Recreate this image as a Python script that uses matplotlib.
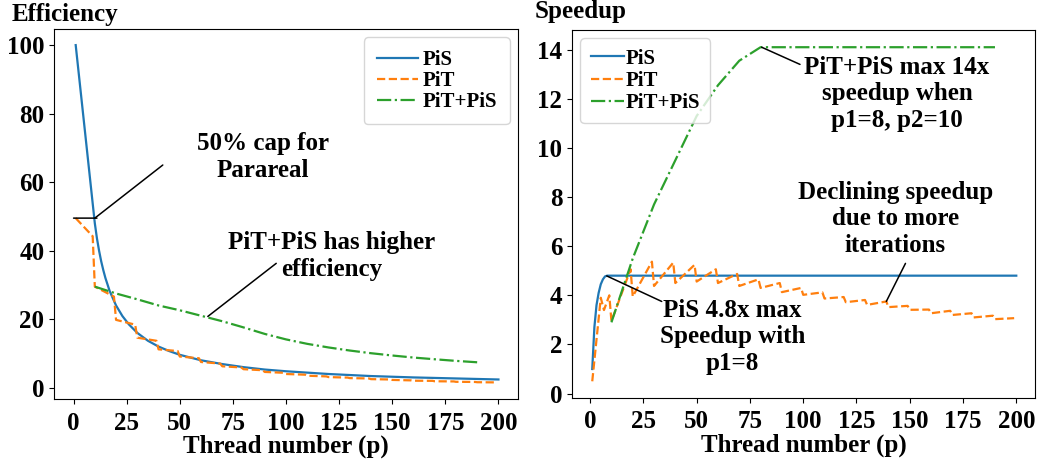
import matplotlib
matplotlib.use('Agg')
import matplotlib.pyplot as plt

plt.rcParams['font.family'] = 'serif'
plt.rcParams['font.serif'] = ['Liberation Serif', 'DejaVu Serif']
plt.rcParams['font.weight'] = 'bold'
plt.rcParams['axes.labelweight'] = 'bold'

# ---- efficiency (%) ---------------------------------------------------------
eff_p_pis = [1, 10, 11, 12, 13, 14, 15, 17, 20, 23, 26, 30, 35, 40, 45, 50,
             60, 70, 80, 90, 100, 120, 140, 160, 180, 200]
eff_pis = [100, 48, 43.6, 40, 36.9, 34.3, 32, 28.2, 24, 20.9, 18.5, 16, 13.7,
           12, 10.7, 9.6, 8, 6.9, 6.0, 5.3, 4.8, 4.0, 3.4, 3.0, 2.7, 2.4]

eff_p_pit = [1, 9, 10, 19, 20, 29, 30, 39, 40, 49, 50, 59, 60, 69, 70, 79, 80,
             89, 90, 99, 100, 109, 110, 119, 120, 129, 130, 139, 140, 149, 150,
             159, 160, 169, 170, 179, 180, 189, 190, 199]
eff_pit = [49.5, 44.2, 29.5, 26.6, 19.8, 18.4, 14.6, 13.7, 11.2, 10.7, 9.1,
           8.6, 7.5, 7.05, 6.25, 5.9, 5.4, 5.1, 4.6, 4.35, 4.0, 3.8, 3.5, 3.3,
           3.1, 2.95, 2.8, 2.7, 2.5, 2.4, 2.27, 2.14, 2.04, 2.0, 1.88, 1.83,
           1.72, 1.68, 1.6, 1.55]

eff_p_hyb = [10, 20, 30, 40, 50, 60, 70, 80, 90, 100, 110, 120, 130, 140, 150,
             160, 170, 180, 190]
eff_hyb = [29.5, 27.5, 25.8, 24.0, 22.6, 21.0, 19.4, 17.6, 15.7, 14.1, 12.8,
           11.75, 10.85, 10.07, 9.4, 8.8, 8.3, 7.83, 7.42]

# ---- speedup (x) ------------------------------------------------------------
sp_p_pis = [1, 2, 3, 4, 5, 6, 7, 8, 200]
sp_pis = [1.0, 2.7, 3.6, 4.1, 4.45, 4.65, 4.77, 4.8, 4.8]

sp_p_pit = [1, 5, 6.5, 9, 10, 19, 20, 29, 30, 39, 40, 49, 50, 59, 60, 69, 70,
            79, 80, 89, 90, 99, 100, 109, 110, 119, 120, 129, 130, 139, 140,
            149, 150, 159, 160, 169, 170, 179, 180, 189, 190, 199]
sp_pit = [0.5, 3.9, 3.4, 4.0, 2.95, 5.06, 3.95, 5.37, 4.38, 5.33, 4.5, 5.24,
          4.56, 5.06, 4.5, 4.87, 4.38, 4.65, 4.3, 4.5, 4.13, 4.3, 4.02, 4.12,
          3.87, 3.93, 3.72, 3.81, 3.61, 3.75, 3.52, 3.57, 3.41, 3.42, 3.27,
          3.37, 3.2, 3.27, 3.1, 3.17, 3.03, 3.07]

sp_p_hyb = [10, 20, 30, 40, 50, 60, 70, 80, 90, 100, 110, 120, 130, 140, 150,
            160, 170, 180, 190]
sp_hyb = [2.9, 5.5, 7.7, 9.5, 11.3, 12.55, 13.55, 14.1, 14.1, 14.1, 14.1,
          14.1, 14.1, 14.1, 14.1, 14.1, 14.1, 14.1, 14.1]

labels = ['PiS', 'PiT', 'PiT+PiS']
xticks = [0, 25, 50, 75, 100, 125, 150, 175, 200]
FS = 18
LINE = dict(arrowstyle='-', color='black', lw=1.1, shrinkA=0, shrinkB=0)

fig = plt.figure(figsize=(10.37, 4.59), dpi=100)
ax1 = fig.add_axes([0.0521, 0.1307, 0.4474, 0.8061])
ax2 = fig.add_axes([0.5516, 0.1329, 0.4465, 0.8017])

# ---- left: efficiency -------------------------------------------------------
ax1.plot(eff_p_pis, eff_pis, '-', color='C0', lw=1.6, label=labels[0])
ax1.plot(eff_p_pit, eff_pit, '--', color='C1', lw=1.6, label=labels[1])
ax1.plot(eff_p_hyb, eff_hyb, '-.', color='C2', lw=1.6, label=labels[2])
ax1.set_xlim(-9.2, 209.2)
ax1.set_ylim(-3.3, 104.7)
ax1.set_xticks(xticks)
ax1.set_yticks([0, 20, 40, 60, 80, 100])
ax1.tick_params(labelsize=FS)
ax1.tick_params(axis='x', pad=5.5)
ax1.set_xlabel('Thread number (p)', fontsize=FS, labelpad=0)
ax1.legend(loc='upper right', fontsize=15, handlelength=2.0,
           handletextpad=0.2, labelspacing=0.05, borderpad=0.6,
           borderaxespad=0.4)
fig.text(0.0116, 0.954, 'Efficiency', fontsize=FS, va='baseline')

ax1.annotate('', xy=(0, 49.5), xytext=(11, 49.5), arrowprops=LINE)
ax1.annotate('', xy=(10, 49.5), xytext=(42, 65), arrowprops=LINE)
ax1.text(89, 67.3, '50% cap for\nParareal', fontsize=FS, ha='center',
         va='center')
ax1.annotate('', xy=(63.2, 20.8), xytext=(95.4, 36.3), arrowprops=LINE)
ax1.text(121.3, 38.5, 'PiT+PiS has higher\nefficiency', fontsize=FS,
         ha='center', va='center')

# ---- right: speedup ---------------------------------------------------------
ax2.plot(sp_p_pis, sp_pis, '-', color='C0', lw=1.6, label=labels[0])
ax2.plot(sp_p_pit, sp_pit, '--', color='C1', lw=1.6, label=labels[1])
ax2.plot(sp_p_hyb, sp_hyb, '-.', color='C2', lw=1.6, label=labels[2])
ax2.set_xlim(-8.5, 208.8)
ax2.set_ylim(-0.18, 14.8)
ax2.set_xticks(xticks)
ax2.set_yticks([0, 2, 4, 6, 8, 10, 12, 14])
ax2.tick_params(labelsize=FS)
ax2.tick_params(axis='x', pad=5.5)
ax2.set_xlabel('Thread number (p)', fontsize=FS, labelpad=0)
ax2.legend(loc='upper left', fontsize=15, handlelength=1.6,
           handletextpad=0.05, labelspacing=0.1, borderpad=0.5,
           borderaxespad=0.4)
fig.text(0.516, 0.960, 'Speedup', fontsize=FS, va='baseline')

ax2.annotate('', xy=(80.5, 14.1), xytext=(98.5, 13.4), arrowprops=LINE)
ax2.text(144.0, 12.2, 'PiT+PiS max 14x\nspeedup when\np1=8, p2=10',
         fontsize=FS, ha='center', va='center')
ax2.annotate('', xy=(139, 3.75), xytext=(148, 5.3), arrowprops=LINE)
ax2.text(143.2, 7.12, 'Declining speedup\ndue to more\niterations',
         fontsize=FS, ha='center', va='center')
ax2.annotate('', xy=(7.8, 4.79), xytext=(33.6, 3.75), arrowprops=LINE)
ax2.text(66.7, 2.31, 'PiS 4.8x max\nSpeedup with\np1=8', fontsize=FS,
         ha='center', va='center')

fig.savefig('out.png', dpi=100, facecolor='white')
